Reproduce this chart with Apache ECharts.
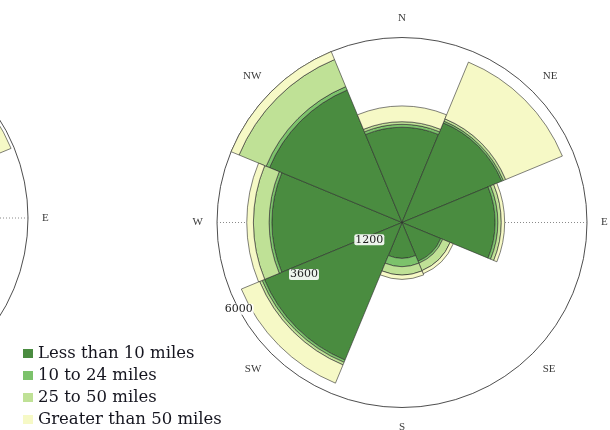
<!DOCTYPE html>
<html>
<head>
<meta charset="utf-8">
<script src="https://cdn.jsdelivr.net/npm/echarts@6/dist/echarts.min.js"></script>
<style>
  html, body { margin: 0; padding: 0; background: #ffffff; }
  #chart { width: 610px; height: 430px; }
</style>
</head>
<body>
<div id="chart"></div>
<script>
// Compass sectors, listed clockwise starting at W
const directions = ['W', 'NW', 'N', 'NE', 'E', 'SE', 'S', 'SW'];
const speedClasses = ['Less than 10 miles', '10 to 24 miles', '25 to 50 miles', 'Greater than 50 miles'];

// Main rose: counts per speed class (stacked outward), in the order of `directions`
const lessThan10 = [4220, 4650, 3090, 3500, 3020, 1360, 1160, 4830];
const from10to24 = [90, 120, 95, 60, 90, 70, 270, 80];
const from25to50 = [510, 950, 85, 80, 110, 260, 270, 90];
const over50     = [215, 280, 510, 1990, 110, 110, 140, 640];

// Companion rose on the left edge
const leftLessThan10 = [3000, 3500, 2600, 3000, 2900, 1800, 1500, 3200];
const leftFrom10to24 = [100, 150, 100, 100, 100, 100, 150, 100];
const leftFrom25to50 = [300, 400, 200, 150, 100, 200, 200, 300];
const leftOver50     = [400, 600, 500, 2650, 200, 300, 300, 600];

const radiusLabels = [1200, 3600, 6000];
const radiusMax = 6000;

const palette = ['#4a8c40', '#7cc26b', '#bfe196', '#f6f9c6'];
const serif = 'DejaVu Serif';
const mainCenter = [402, 222.5];
const leftCenter = [-157, 218];
const roseRadius = 185;

function angleAxisFor(polarIndex) {
  return {
    polarIndex: polarIndex,
    type: 'category',
    data: directions,
    startAngle: 202.5,
    clockwise: true,
    boundaryGap: true,
    axisLine: { lineStyle: { color: '#3a3a3a', width: 0.9 } },
    axisTick: { show: false },
    splitLine: { show: false },
    axisLabel: { margin: 14, fontFamily: 'Liberation Serif', fontSize: 11, color: '#3a3a3a' }
  };
}

function radiusAxisFor(polarIndex, showLabels) {
  return {
    polarIndex: polarIndex,
    type: 'value',
    min: 0,
    max: radiusMax,
    interval: 1200,
    z: 10,
    axisLine: { show: false },
    axisTick: { show: false },
    splitLine: { show: false },
    axisLabel: {
      show: showLabels,
      customValues: radiusLabels,
      formatter: v => String(v),
      margin: 0,
      align: 'center',
      verticalAlign: 'middle',
      fontFamily: serif,
      fontSize: 11,
      color: '#222',
      backgroundColor: 'rgba(255,255,255,0.9)',
      borderRadius: 2,
      padding: [0, 1]
    }
  };
}

function stackSeries(polarIndex, stackId, columns) {
  return columns.map((values, i) => ({
    type: 'bar',
    name: speedClasses[i],
    coordinateSystem: 'polar',
    polarIndex: polarIndex,
    stack: stackId,
    barCategoryGap: '0%',
    data: values,
    z: 2,
    itemStyle: { color: palette[i], borderColor: '#2b2b2b', borderWidth: 0.6 }
  }));
}

// Dotted E–W reference line drawn under the bars
function eastWestLine(polarIndex) {
  return {
    type: 'line',
    coordinateSystem: 'polar',
    polarIndex: polarIndex,
    silent: true,
    symbol: 'none',
    z: 1,
    data: [[radiusMax, 'W'], [radiusMax, 'E']],
    lineStyle: { color: '#8a8a8a', width: 1, type: [1, 2] }
  };
}

const chart = echarts.init(document.getElementById('chart'), null, { renderer: 'canvas' });
chart.setOption({
  backgroundColor: '#ffffff',
  animation: false,
  polar: [
    { center: mainCenter, radius: roseRadius },
    { center: leftCenter, radius: roseRadius },
    // scale-label ray of the main rose, slightly below the W/SW edge
    { center: mainCenter, radius: roseRadius }
  ],
  angleAxis: [
    angleAxisFor(0),
    angleAxisFor(1),
    { polarIndex: 2, type: 'value', min: 0, max: 360, startAngle: 208, show: false }
  ],
  radiusAxis: [radiusAxisFor(0, false), radiusAxisFor(1, false), radiusAxisFor(2, true)],
  legend: {
    orient: 'vertical',
    left: 23,
    top: 345,
    padding: 0,
    icon: 'rect',
    itemWidth: 10,
    itemHeight: 9,
    itemGap: 5,
    data: speedClasses,
    itemStyle: { borderWidth: 0 },
    textStyle: { fontFamily: serif, fontSize: 16.5, color: '#15151f' }
  },
  series: [
    eastWestLine(0),
    eastWestLine(1),
    ...stackSeries(0, 'main', [lessThan10, from10to24, from25to50, over50]),
    ...stackSeries(1, 'left', [leftLessThan10, leftFrom10to24, leftFrom25to50, leftOver50])
  ]
});
</script>
</body>
</html>
